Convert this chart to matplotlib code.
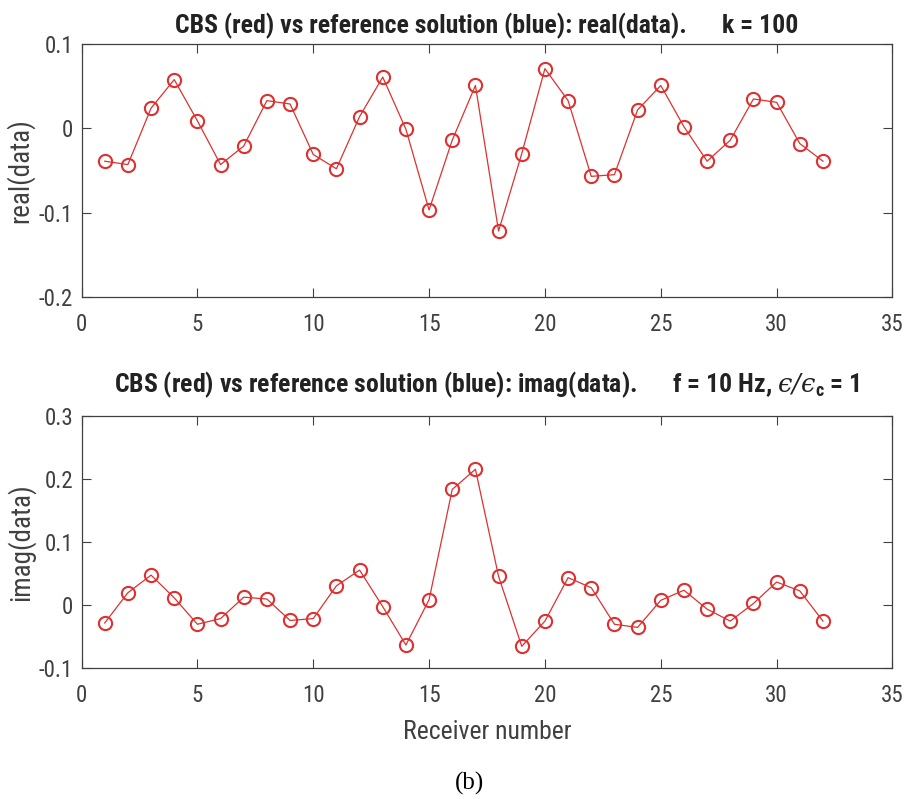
import numpy as np
import matplotlib.pyplot as plt

plt.rcParams['font.family'] = ['Roboto Condensed', 'DejaVu Sans']
plt.rcParams['mathtext.fontset'] = 'custom'
plt.rcParams['mathtext.it'] = 'DejaVu Serif:italic'
plt.rcParams['mathtext.rm'] = 'DejaVu Serif:italic'
plt.rcParams['mathtext.bf'] = 'Roboto Condensed:bold'

receivers = np.arange(1, 33)

real_data = [-0.039, -0.043, 0.024, 0.058, 0.009, -0.043, -0.021, 0.033,
             0.029, -0.031, -0.048, 0.014, 0.061, -0.001, -0.097, -0.014,
             0.051, -0.122, -0.030, 0.071, 0.033, -0.057, -0.055, 0.022,
             0.051, 0.002, -0.039, -0.014, 0.035, 0.031, -0.018, -0.039]

imag_data = [-0.029, 0.019, 0.047, 0.011, -0.031, -0.022, 0.012, 0.009,
             -0.025, -0.022, 0.030, 0.055, -0.003, -0.064, 0.008, 0.183,
             0.215, 0.045, -0.066, -0.026, 0.043, 0.027, -0.031, -0.036,
             0.007, 0.023, -0.007, -0.026, 0.002, 0.036, 0.022, -0.026]

x_ticks = [0, 5, 10, 15, 20, 25, 30, 35]
real_ticks = [-0.2, -0.1, 0, 0.1]
imag_ticks = [-0.1, 0, 0.1, 0.2, 0.3]

red = '#dd3131'
axcol = '#404040'

fig = plt.figure(figsize=(9.09, 7.99), dpi=100)
ax1 = fig.add_axes([0.0897, 0.6287, 0.8921, 0.3159])
ax2 = fig.add_axes([0.0897, 0.1643, 0.8921, 0.3154])


def style(ax, yticks, ylabel):
    ax.set_xlim(0, 35)
    ax.set_ylim(yticks[0], yticks[-1])
    ax.set_xticks(x_ticks)
    ax.set_yticks(yticks)
    ax.set_xticklabels([str(t) for t in x_ticks])
    ax.set_yticklabels(['0' if t == 0 else f'{t:g}' for t in yticks])
    ax.tick_params(direction='in', top=True, right=True, length=6.5,
                   width=0.8, color=axcol, labelcolor=axcol, labelsize=16.5)
    ax.tick_params(axis='x', pad=12)
    ax.tick_params(axis='y', pad=6)
    for s in ax.spines.values():
        s.set_color(axcol)
        s.set_linewidth(0.9)
    ax.set_ylabel(ylabel, fontsize=19.5, color=axcol, labelpad=3)


ax1.plot(receivers, real_data, '-o', color=red, lw=0.9, ms=9.5,
         mfc='none', mew=1.5)
style(ax1, real_ticks, 'real(data)')
ax1.set_title('CBS (red) vs reference solution (blue): real(data).      k = 100',
              fontsize=18.5, fontweight='bold', color='#222222', pad=8)

# lunate epsilon (U+03F5) in the permittivity ratio
ax2.plot(receivers, imag_data, '-o', color=red, lw=0.9, ms=9.5,
         mfc='none', mew=1.5)
style(ax2, imag_ticks, 'imag(data)')
ax2.set_title('CBS (red) vs reference solution (blue): imag(data).      '
              'f = 10 Hz, $\u03f5/\u03f5_{\\mathbf{c}}$ = 1',
              fontsize=18.5, fontweight='bold', color='#222222', pad=17)
ax2.set_xlabel('Receiver number', fontsize=18.5, color=axcol, labelpad=9)

fig.text(0.517, 0.019, '(b)', fontsize=18, family='Liberation Serif',
         ha='center', va='center')

fig.savefig('out.png', dpi=100)
